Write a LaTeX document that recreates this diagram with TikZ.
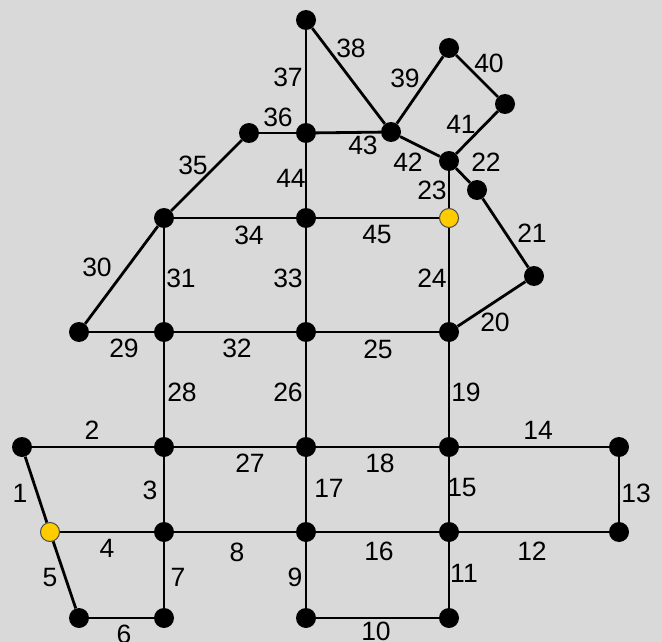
\documentclass[tikz,border=0pt]{standalone}
\usepackage{fontspec}
\setmainfont{Liberation Sans}
\definecolor{bgc}{HTML}{D9D9D9}
\definecolor{yel}{HTML}{FFCC00}
\begin{document}
\begin{tikzpicture}[x=1pt,y=-1pt,
  v/.style={circle,fill=black,inner sep=0pt,minimum size=20pt},
  yv/.style={circle,fill=yel,draw=black!70,line width=1pt,inner sep=0pt,minimum size=19pt},
  e/.style={line width=2.8pt,black},
  lab/.style={font=\fontsize{26.5}{30}\selectfont,inner sep=0pt}]
\fill[bgc] (0,0) rectangle (662,642);
\useasboundingbox (0,0) rectangle (662,642);
% nodes
\node[v] (t) at (306,20) {};
\node[v] (a) at (449,48) {};
\node[v] (b) at (505,104) {};
\node[v] (c) at (391,132) {};
\node[v] (d) at (306,133) {};
\node[v] (f) at (249,133) {};
\node[v] (g) at (449,161) {};
\node[v] (h) at (477,190) {};
\node[yv] (y1) at (449,218) {};
\node[v] (i) at (306,218) {};
\node[v] (j) at (164,218) {};
\node[v] (k) at (534,276) {};
\node[v] (l) at (79,332) {};
\node[v] (m) at (164,332) {};
\node[v] (n) at (306,332) {};
\node[v] (o) at (449,332) {};
\node[v] (p) at (22,447) {};
\node[v] (q) at (164,447) {};
\node[v] (r) at (306,447) {};
\node[v] (s) at (449,447) {};
\node[v] (u) at (619,447) {};
\node[yv] (y2) at (50,532) {};
\node[v] (w) at (164,532) {};
\node[v] (x) at (306,532) {};
\node[v] (z) at (449,532) {};
\node[v] (aa) at (619,532) {};
\node[v] (bb) at (79,618) {};
\node[v] (cc) at (164,618) {};
\node[v] (dd) at (306,618) {};
\node[v] (ee) at (449,618) {};
% edges
\draw[e] (p)--(y2); \draw[e] (p)--(q); \draw[e] (q)--(w); \draw[e] (y2)--(w);
\draw[e] (y2)--(bb); \draw[e] (bb)--(cc); \draw[e] (w)--(cc); \draw[e] (w)--(x);
\draw[e] (x)--(dd); \draw[e] (dd)--(ee); \draw[e] (z)--(ee); \draw[e] (z)--(aa);
\draw[e] (u)--(aa); \draw[e] (s)--(u); \draw[e] (s)--(z); \draw[e] (x)--(z);
\draw[e] (r)--(x); \draw[e] (r)--(s); \draw[e] (o)--(s); \draw[e] (o)--(k);
\draw[e] (k)--(h); \draw[e] (g)--(h); \draw[e] (g)--(y1); \draw[e] (y1)--(o);
\draw[e] (n)--(o); \draw[e] (n)--(r); \draw[e] (q)--(r); \draw[e] (m)--(q);
\draw[e] (l)--(m); \draw[e] (l)--(j); \draw[e] (j)--(m); \draw[e] (m)--(n);
\draw[e] (i)--(n); \draw[e] (j)--(i); \draw[e] (j)--(f); \draw[e] (f)--(d);
\draw[e] (t)--(d); \draw[e] (t)--(c); \draw[e] (c)--(a); \draw[e] (a)--(b);
\draw[e] (b)--(g); \draw[e] (c)--(g); \draw[e] (d)--(c); \draw[e] (d)--(i);
\draw[e] (i)--(y1);
% labels
\node[lab] (l1) at (20,493) {1};
\node[lab] (l2) at (92,430) {2};
\node[lab] (l3) at (150,490) {3};
\node[lab] (l4) at (107,548) {4};
\node[lab] (l5) at (50,578) {5};
\node[lab] (l6) at (124,634) {6};
\node[lab] (l7) at (178,577) {7};
\node[lab] (l8) at (237,552) {8};
\node[lab] (l9) at (295,577) {9};
\node[lab] (l10) at (376,631) {10};
\node[lab] (l11) at (464,573) {11};
\node[lab] (l12) at (532,551) {12};
\node[lab] (l13) at (636,493) {13};
\node[lab] (l14) at (538,430) {14};
\node[lab] (l15) at (462,488) {15};
\node[lab] (l16) at (379,551) {16};
\node[lab] (l17) at (329,488) {17};
\node[lab] (l18) at (380,463) {18};
\node[lab] (l19) at (466,392) {19};
\node[lab] (l20) at (495,322) {20};
\node[lab] (l21) at (532,233) {21};
\node[lab] (l22) at (486,162) {22};
\node[lab] (l23) at (432,190) {23};
\node[lab] (l24) at (432,278) {24};
\node[lab] (l25) at (378,349) {25};
\node[lab] (l26) at (288,392) {26};
\node[lab] (l27) at (250,463) {27};
\node[lab] (l28) at (182,392) {28};
\node[lab] (l29) at (124,348) {29};
\node[lab] (l30) at (97,267) {30};
\node[lab] (l31) at (181,278) {31};
\node[lab] (l32) at (237,348) {32};
\node[lab] (l33) at (288,278) {33};
\node[lab] (l34) at (249,235) {34};
\node[lab] (l35) at (193,165) {35};
\node[lab] (l36) at (278,117) {36};
\node[lab] (l37) at (288,77) {37};
\node[lab] (l38) at (351,48) {38};
\node[lab] (l39) at (405,78) {39};
\node[lab] (l40) at (489,63) {40};
\node[lab] (l41) at (461,124) {41};
\node[lab] (l42) at (408,162) {42};
\node[lab] (l43) at (363,145) {43};
\node[lab] (l44) at (291,178) {44};
\node[lab] (l45) at (377,235) {45};
\end{tikzpicture}
\end{document}
